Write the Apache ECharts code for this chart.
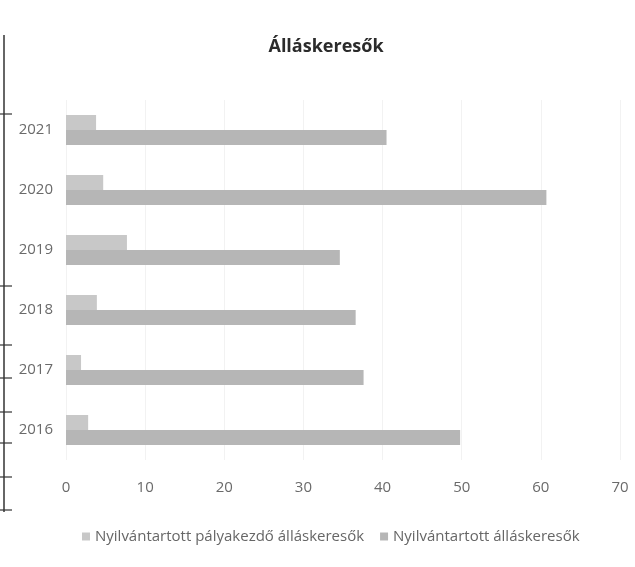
<!DOCTYPE html>
<html><head><meta charset="utf-8">
<script src="https://cdn.jsdelivr.net/npm/echarts@6/dist/echarts.min.js"></script>
<style>html,body{margin:0;padding:0;background:#fff}#c{width:635px;height:567px}</style>
</head><body><div id="c"></div>
<script>
var years = ['2016','2017','2018','2019','2020','2021'];
var palyakezdo = [2.8, 1.9, 3.9, 7.7, 4.7, 3.8];
var allaskeresok = [49.8, 37.6, 36.6, 34.6, 60.7, 40.5];
var xTicks = [0, 10, 20, 30, 40, 50, 60, 70];
var seriesNames = ['Nyilvántartott pályakezdő álláskeresők', 'Nyilvántartott álláskeresők'];

var chart = echarts.init(document.getElementById('c'), null, {renderer:'canvas'});
var font = '"Open Sans", "Noto Sans", sans-serif';
chart.setOption({
  backgroundColor:'#fff',
  animation:false,
  title:{text:'Álláskeresők', left:321, top:33, textAlign:'center',
    textStyle:{fontFamily:font, fontSize:18, fontWeight:'bold', color:'#2b2b2b'}},
  legend:{data:seriesNames, bottom:18, left:77, itemWidth:8, itemHeight:8, itemGap:16,
    icon:'rect', textStyle:{fontFamily:font, fontSize:15, color:'#666'}},
  grid:{left:66, right:15, top:100, bottom:107},
  xAxis:{type:'value', min:xTicks[0], max:xTicks[xTicks.length-1], interval:10,
    axisLine:{show:false}, axisTick:{show:false},
    axisLabel:{fontFamily:font, fontSize:15, color:'#6a6a6a', margin:20},
    splitLine:{lineStyle:{color:'#f2f2f2', width:1}}},
  yAxis:{type:'category', data:years,
    axisLine:{show:false}, axisTick:{show:false},
    axisLabel:{fontFamily:font, fontSize:15, color:'#6a6a6a', margin:13}},
  series:[
    {name:seriesNames[0], type:'bar', data:palyakezdo, barGap:'0%', barCategoryGap:'50%',
      itemStyle:{color:'#c8c8c8'}},
    {name:seriesNames[1], type:'bar', data:allaskeresok, barGap:'0%', barCategoryGap:'50%',
      itemStyle:{color:'#b6b6b6'}}
  ],
  graphic:[
    {type:'line', shape:{x1:4,y1:35,x2:4,y2:512}, style:{stroke:'#333', lineWidth:1.5}},
    {type:'line', shape:{x1:0,y1:114,x2:12,y2:114}, style:{stroke:'#333', lineWidth:1.2}},
    {type:'line', shape:{x1:0,y1:286,x2:12,y2:286}, style:{stroke:'#333', lineWidth:1.2}},
    {type:'line', shape:{x1:0,y1:345,x2:12,y2:345}, style:{stroke:'#333', lineWidth:1.2}},
    {type:'line', shape:{x1:0,y1:378,x2:12,y2:378}, style:{stroke:'#333', lineWidth:1.2}},
    {type:'line', shape:{x1:0,y1:412,x2:12,y2:412}, style:{stroke:'#333', lineWidth:1.2}},
    {type:'line', shape:{x1:0,y1:443,x2:12,y2:443}, style:{stroke:'#333', lineWidth:1.2}},
    {type:'line', shape:{x1:0,y1:477,x2:12,y2:477}, style:{stroke:'#333', lineWidth:1.2}},
    {type:'line', shape:{x1:0,y1:510,x2:12,y2:510}, style:{stroke:'#333', lineWidth:1.2}}
  ]
});
</script></body></html>
